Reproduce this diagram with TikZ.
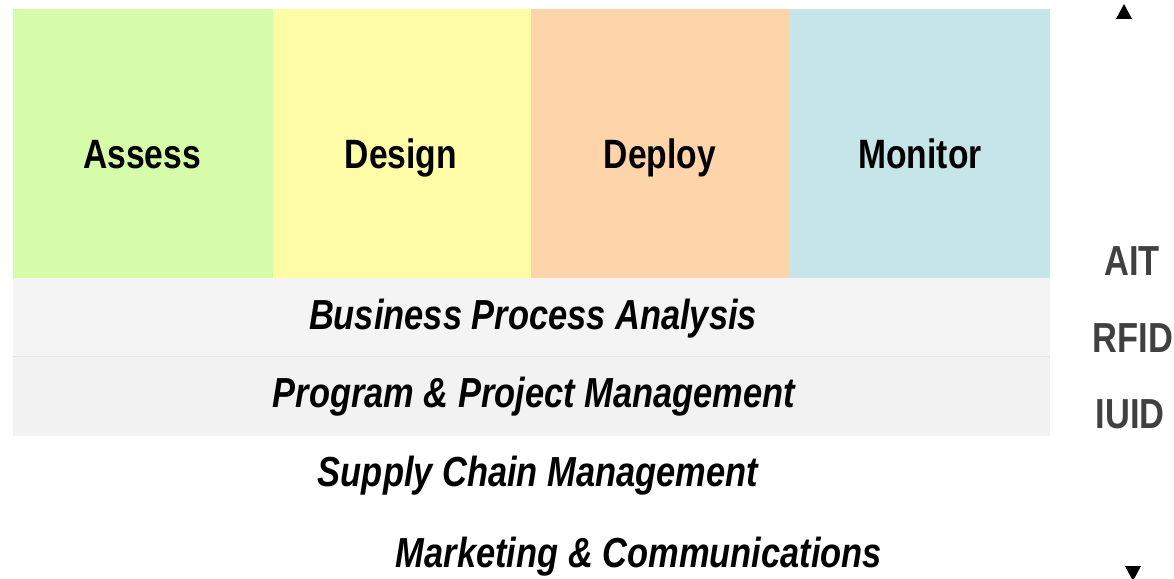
\documentclass[tikz,border=0pt]{standalone}
\usepackage{fontspec}
\newfontfamily\narrowsans{Liberation Sans}[FakeStretch=0.82]
\definecolor{cgreen}{HTML}{D6FBA9}
\definecolor{cyellow}{HTML}{FFFCA8}
\definecolor{corange}{HTML}{FED4AA}
\definecolor{cblue}{HTML}{C5E5E8}
\definecolor{bandA}{HTML}{F4F4F4}
\definecolor{bandB}{HTML}{F2F2F2}
\definecolor{sepline}{HTML}{E6E6E6}
\definecolor{sidegray}{HTML}{404040}
\tikzset{
  phase/.style={anchor=base, inner sep=0pt, font=\narrowsans\bfseries\fontsize{41}{48}\selectfont},
  bandlabel/.style={anchor=base, inner sep=0pt, font=\narrowsans\bfseries\itshape\fontsize{42}{50}\selectfont},
  sidelabel/.style={anchor=base, inner sep=0pt, text=sidegray, font=\narrowsans\bfseries\fontsize{42}{50}\selectfont},
}
\begin{document}
\begin{tikzpicture}[x=1pt,y=-1pt]
\useasboundingbox (0,0) rectangle (1174,578);
% phase columns
\fill[cgreen]  (13,9) rectangle (273,278);
\fill[cyellow] (273,9) rectangle (531,278);
\fill[corange] (531,9) rectangle (790,278);
\fill[cblue]   (790,9) rectangle (1050,278);
% bands
\fill[bandA] (13,278) rectangle (1050,356);
\fill[bandB] (13,356) rectangle (1050,436);
\draw[sepline, line width=1pt] (13,356) -- (1050,356);
% phase labels
\node[phase] (assess)  at (142,168) {Assess};
\node[phase] (design)  at (401,168) {Design};
\node[phase] (deploy)  at (660,168) {Deploy};
\node[phase] (monitor) at (920,168) {Monitor};
% band labels
\node[bandlabel] (bpa) at (533,329) {Business Process Analysis};
\node[bandlabel] (ppm) at (534,407) {Program \& Project Management};
\node[bandlabel] (scm) at (538,486) {Supply Chain Management};
\node[bandlabel] (mc)  at (639,567) {Marketing \& Communications};
% side labels
\node[sidelabel] (ait)  at (1132,275) {AIT};
\node[sidelabel] (rfid) at (1133,352) {RFID};
\node[sidelabel] (iuid) at (1130,428) {IUID};
% arrows
\fill (1124,4) -- (1132,19) -- (1116,19) -- cycle;
\fill (1125,566) -- (1141,566) -- (1133,581) -- cycle;
\end{tikzpicture}
\end{document}
